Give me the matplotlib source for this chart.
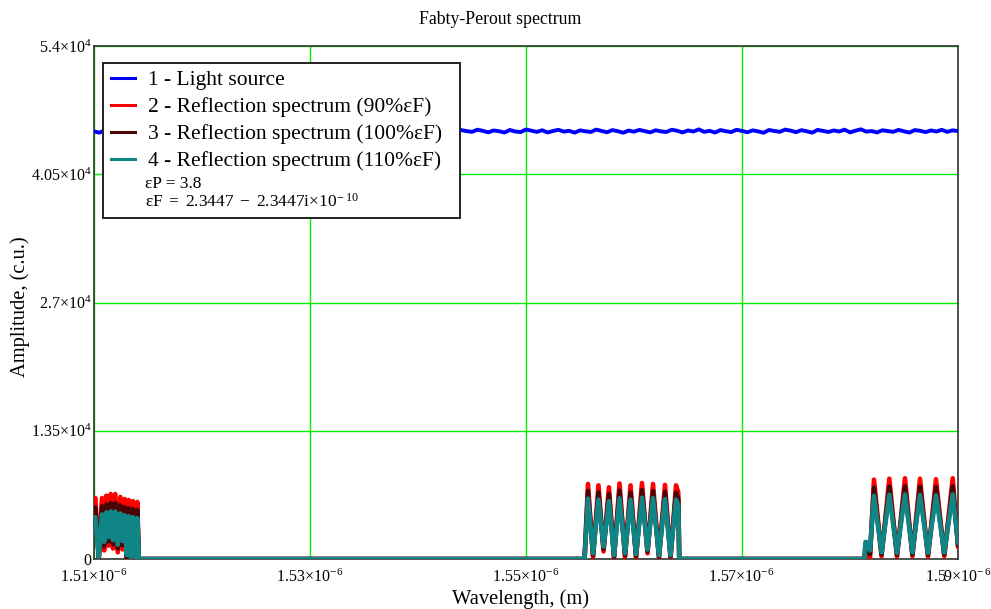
import numpy as np
import matplotlib
matplotlib.use("Agg")
import matplotlib.pyplot as plt
from matplotlib.patches import Rectangle

plt.rcParams['font.family'] = ['Liberation Serif', 'DejaVu Serif']
plt.rcParams['mathtext.fontset'] = 'custom'
plt.rcParams['mathtext.rm'] = 'Liberation Serif'
plt.rcParams['mathtext.it'] = 'Liberation Serif:italic'
plt.rcParams['mathtext.bf'] = 'Liberation Serif:bold'

# ---------------- data ----------------
title = "Fabty-Perout spectrum"
xlabel = "Wavelength, (m)"
ylabel = "Amplitude, (c.u.)"

x_ticks_um = [1.51, 1.53, 1.55, 1.57, 1.59]
x_tick_labels = [r'$1.51{\times}10^{-\,6}$', r'$1.53{\times}10^{-\,6}$', r'$1.55{\times}10^{-\,6}$',
                 r'$1.57{\times}10^{-\,6}$', r'$1.59{\times}10^{-\,6}$']
y_ticks = [0, 13500, 27000, 40500, 54000]
y_tick_labels = ['0', r'$1.35{\times}10^{4}$', r'$2.7{\times}10^{4}$', r'$4.05{\times}10^{4}$', r'$5.4{\times}10^{4}$']

legend_labels = ["1 - Light source",
                 "2 - Reflection spectrum (90%εF)",
                 "3 - Reflection spectrum (100%εF)",
                 "4 - Reflection spectrum (110%εF)"]
note_eP = "εP = 3.8"
note_eF = r'$\mathrm{εF\ =\ 2.3447\ -\ 2.3447i{\times}10^{-\ 10}}$'

# light source (nm grid evenly spaced from 1510 to 1590)
blue_amp = [
45010, 44880, 45120, 44950, 45060, 44900, 45180, 45030, 44870, 45090,
44960, 45150, 44920, 45040, 45200, 44990, 44860, 45110, 45010, 44930,
45170, 45050, 44900, 45080, 45230, 44970, 45060, 44890, 45140, 45000,
44920, 45190, 45070, 44950, 45110, 44880, 45030, 45210, 44980, 45060,
44910, 45130, 45020, 44870, 45160, 45040, 44960, 45200, 45080, 44930,
45100, 44990, 45170, 44900, 45050, 45220, 44970, 45090, 44880, 45140,
45010, 44950, 45180, 45060, 44920, 45120, 45000, 44870, 45150, 45040,
44960, 45190, 45070, 44910, 45110, 45030, 44890, 45160, 45000, 44940,
45210, 45080, 44960, 45130, 44900, 45050, 45180, 44990, 45070, 44880,
45120, 45020, 44950, 45200, 45060, 44920, 45150, 45030, 44870, 45100,
44980, 45170, 45040, 44910, 45130, 45010, 44950, 45190, 45080, 44900,
45110, 45000, 45220, 44960, 45070, 44890, 45150, 45030, 44940, 45180,
45060, 44920, 45120, 45010, 44870, 45160, 45050, 44970, 45200, 45090,
44930, 45140, 45020, 44880, 45170, 45060, 44950, 45110, 45000, 45190,
44910, 45080, 45230, 44990, 45050, 44900, 45130, 45040, 44960, 45170,
45020, 44890, 45150, 45070, 44940, 45110, 45000, 45180, 44960, 45120,
45050]

# reflection spectra knots (wavelength in nm)
refl_wl_nm = [
    # burst 1
    1510.00, 1510.12, 1510.44, 1510.74, 1510.94, 1511.14, 1511.34, 1511.55, 1511.76, 1511.97,
    1512.20, 1512.44, 1512.64, 1512.84, 1513.03, 1513.21, 1513.41, 1513.61, 1513.81, 1514.01,
    1514.15,
    # flat
    1555.42,
    # burst 2
    1555.74, 1556.21, 1556.71, 1557.18, 1557.68, 1558.15, 1558.66, 1559.17, 1559.68, 1560.19,
    1560.74, 1561.25, 1561.76, 1562.31, 1562.87, 1563.38, 1563.89, 1564.10, 1564.19,
    # flat + step
    1581.34, 1581.43, 1581.66, 1581.85,
    # burst 3
    1582.22, 1582.92, 1583.64, 1584.35, 1585.09, 1585.78, 1586.48, 1587.22, 1587.96, 1588.73,
    1589.51, 1590.00]

refl_90 = [
    6000, 6420, 0, 6420, 900, 6660, 1400, 6840, 1100, 6840,
    700, 6530, 1000, 6320, 0, 6210, 0, 6100, 0, 6000,
    0,
    0,
    7900, 200, 7750, 800, 7550, 100, 7950, 200, 7750, 100,
    8000, 600, 7900, 100, 7800, 100, 7750, 7000, 0,
    0, 900, 300, 150,
    8350, 300, 8450, 250, 8500, 300, 8450, 250, 8400, 300,
    8500, 1260]

refl_100 = [
    5150, 5400, 100, 5550, 1350, 5750, 1850, 5900, 1550, 5900,
    1100, 5650, 1450, 5450, 200, 5350, 100, 5250, 100, 5150,
    0,
    0,
    7150, 400, 7000, 1050, 6850, 250, 7200, 400, 7000, 300,
    7250, 800, 7150, 250, 7050, 250, 7000, 6300, 0,
    0, 1350, 1000, 500,
    7500, 500, 7600, 450, 7650, 500, 7600, 450, 7550, 500,
    7650, 1500]

refl_110 = [
    4300, 4400, 200, 4700, 1800, 4900, 2300, 5000, 2000, 5000,
    1500, 4800, 1900, 4600, 400, 4500, 200, 4400, 200, 4300,
    0,
    0,
    6350, 600, 6250, 1300, 6100, 400, 6400, 600, 6250, 500,
    6450, 1000, 6400, 400, 6300, 400, 6250, 5600, 0,
    0, 1800, 1700, 900,
    6650, 700, 6750, 650, 6800, 700, 6750, 650, 6700, 700,
    6800, 1700]

colors = ['#0000ff', '#ff0000', '#4a0606', '#108585']

# ---------------- figure ----------------
W, H = 991, 609
fig = plt.figure(figsize=(W / 100, H / 100), dpi=100)
L, R, T, B = 94, 958, 46, 559
ax = fig.add_axes([L / W, 1 - B / H, (R - L) / W, (B - T) / H])

blue_x = np.linspace(1510, 1590, len(blue_amp)) * 1e-9
wl = np.array(refl_wl_nm) * 1e-9

ax.plot(blue_x, blue_amp, color=colors[0], lw=2.8, solid_joinstyle='round', zorder=3)
for amp, c in zip([refl_90, refl_100, refl_110], colors[1:]):
    ax.plot(wl, amp, color=c, lw=3.3, solid_joinstyle='round', solid_capstyle='round', zorder=3)

ax.set_xlim(1.51e-6, 1.59e-6)
ax.set_ylim(0, 54000)
ax.set_xticks([v * 1e-6 for v in x_ticks_um])
ax.set_xticklabels(x_tick_labels, fontsize=11.5)
ax.set_yticks(y_ticks)
ax.set_yticklabels(y_tick_labels, fontsize=11.5)
ax.tick_params(axis='both', length=0)
ax.tick_params(axis='x', pad=7)
ax.tick_params(axis='y', pad=2)
ax.grid(True, color='#00ee00', lw=1.0)
for s in ax.spines.values():
    s.set_color('#333333')
    s.set_linewidth(1.2)

# legend (manual)
def fx(px):
    return (px - L) / (R - L)

def fy(py):
    return (B - py) / (B - T)

ax.add_patch(Rectangle((fx(103), fy(218)), fx(460) - fx(103), fy(63) - fy(218),
                       transform=ax.transAxes, facecolor='white', edgecolor='#222222',
                       lw=1.4, zorder=10))
line_rows = [78, 105, 132, 159]
base_rows = [85, 112, 139, 166]
for lab, c, ly, by in zip(legend_labels, colors, line_rows, base_rows):
    ax.plot([fx(111), fx(135)], [fy(ly), fy(ly)], transform=ax.transAxes, color=c, lw=2.2,
            zorder=11, clip_on=False)
    ax.text(fx(148), fy(by), lab, transform=ax.transAxes, ha='left', va='baseline',
            fontsize=15.5, zorder=11)
ax.text(fx(145), fy(188), note_eP, transform=ax.transAxes, ha='left', va='baseline',
        fontsize=12.5, zorder=11)
ax.text(fx(145), fy(207), note_eF, transform=ax.transAxes, ha='left', va='baseline',
        fontsize=12.5, zorder=11)

fig.text(500 / W, 1 - 20 / H, title, ha='center', va='center', fontsize=12.8)
fig.text(520 / W, 1 - 599 / H, xlabel, ha='center', va='center', fontsize=14.8)
fig.text(20 / W, 1 - 307 / H, ylabel, ha='center', va='center', rotation=90, fontsize=14.8)

fig.savefig('out.png', dpi=100)
